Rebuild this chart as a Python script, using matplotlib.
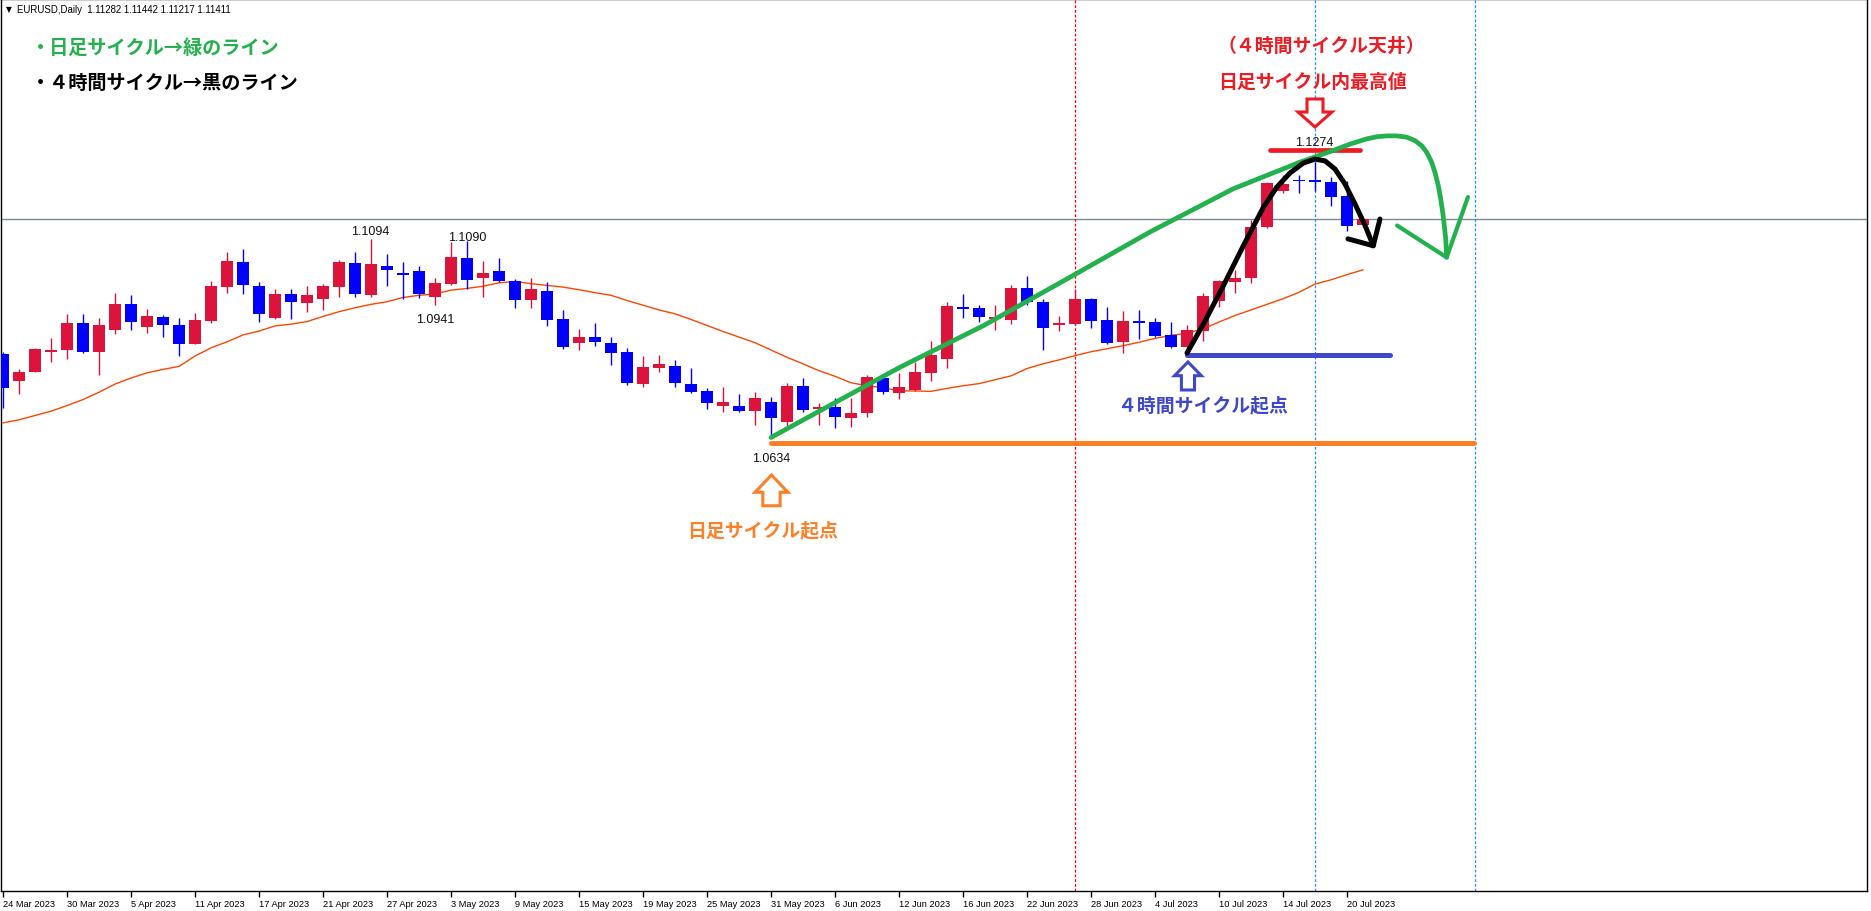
import matplotlib
matplotlib.use("Agg")
import matplotlib.pyplot as plt
from matplotlib.patches import Polygon
import numpy as np

plt.rcParams['font.family'] = ['Noto Sans CJK JP', 'DejaVu Sans']

# EURUSD daily, 24 Mar 2023 .. 21 Jul 2023 (one bar per weekday)
OPEN = [1.0828, 1.0766, 1.0787, 1.0833, 1.0836, 1.0900, 1.0833, 1.0884, 1.0944, 1.0891,
        1.0914, 1.0895, 1.0852, 1.0905, 1.0984, 1.1042, 1.0986, 1.0912, 1.0967, 1.0947,
        1.0956, 1.0984, 1.1040, 1.0965, 1.1032, 1.1016, 1.1020, 1.0961, 1.0990, 1.1051,
        1.1005, 1.1020, 1.0997, 1.0954, 1.0974, 1.0909, 1.0854, 1.0867, 1.0853, 1.0833,
        1.0759, 1.0796, 1.0800, 1.0758, 1.0742, 1.0708, 1.0707, 1.0696, 1.0717, 1.0671,
        1.0754, 1.0701, 1.0705, 1.0680, 1.0690, 1.0772, 1.0737, 1.0745, 1.0784, 1.0817,
        1.0937, 1.0935, 1.0910, 1.0907, 1.0981, 1.0948, 1.0896, 1.0898, 1.0956, 1.0907,
        1.0856, 1.0904, 1.0902, 1.0872, 1.0845, 1.0880, 1.0951, 1.0995, 1.1003, 1.1123,
        1.1206, 1.1232, 1.1232, 1.1227, 1.1194, 1.1128]
HIGH = [1.0832, 1.0793, 1.0842, 1.0865, 1.0921, 1.0921, 1.0911, 1.0969, 1.0965, 1.0932,
        1.0918, 1.0911, 1.0923, 1.0997, 1.1065, 1.1072, 1.0995, 1.0979, 1.0979, 1.0986,
        1.0990, 1.1046, 1.1065, 1.1094, 1.1060, 1.1042, 1.1032, 1.1004, 1.1088, 1.1090,
        1.1044, 1.1051, 1.1002, 1.1004, 1.0995, 1.0930, 1.0886, 1.0900, 1.0867, 1.0842,
        1.0823, 1.0826, 1.0814, 1.0795, 1.0749, 1.0751, 1.0735, 1.0740, 1.0728, 1.0761,
        1.0772, 1.0714, 1.0726, 1.0726, 1.0779, 1.0775, 1.0784, 1.0809, 1.0858, 1.0949,
        1.0967, 1.0942, 1.0942, 1.0988, 1.1009, 1.0956, 1.0916, 1.0979, 1.0958, 1.0937,
        1.0928, 1.0930, 1.0911, 1.0902, 1.0895, 1.0969, 1.0999, 1.1023, 1.1139, 1.1227,
        1.1243, 1.1243, 1.1274, 1.1239, 1.1229, 1.1144]
LOW = [1.0703, 1.0736, 1.0785, 1.0810, 1.0815, 1.0830, 1.0780, 1.0874, 1.0884, 1.0877,
       1.0868, 1.0824, 1.0850, 1.0900, 1.0970, 1.0966, 1.0903, 1.0910, 1.0910, 1.0926,
       1.0931, 1.0961, 1.0960, 1.0960, 1.0986, 1.0956, 1.0958, 1.0941, 1.0988, 1.0979,
       1.0961, 1.0996, 1.0935, 1.0935, 1.0893, 1.0840, 1.0838, 1.0847, 1.0803, 1.0755,
       1.0752, 1.0787, 1.0752, 1.0738, 1.0699, 1.0692, 1.0694, 1.0662, 1.0634, 1.0657,
       1.0694, 1.0664, 1.0657, 1.0659, 1.0682, 1.0734, 1.0724, 1.0743, 1.0766, 1.0796,
       1.0912, 1.0903, 1.0884, 1.0898, 1.0942, 1.0836, 1.0880, 1.0896, 1.0889, 1.0852,
       1.0829, 1.0863, 1.0868, 1.0842, 1.0828, 1.0859, 1.0938, 1.0970, 1.0993, 1.1121,
       1.1202, 1.1201, 1.1207, 1.1172, 1.1114, 1.1122]
CLOSE = [1.0750, 1.0786, 1.0840, 1.0837, 1.0900, 1.0833, 1.0895, 1.0944, 1.0901, 1.0916,
         1.0896, 1.0852, 1.0907, 1.0986, 1.1044, 1.0989, 1.0921, 1.0967, 1.0949, 1.0965,
         1.0986, 1.1042, 1.0966, 1.1037, 1.1023, 1.1012, 1.0968, 1.0993, 1.1053, 1.1000,
         1.1016, 1.0998, 1.0954, 1.0979, 1.0907, 1.0843, 1.0867, 1.0856, 1.0829, 1.0761,
         1.0798, 1.0805, 1.0761, 1.0740, 1.0715, 1.0717, 1.0696, 1.0726, 1.0680, 1.0754,
         1.0697, 1.0705, 1.0682, 1.0691, 1.0775, 1.0740, 1.0751, 1.0786, 1.0826, 1.0939,
         1.0933, 1.0914, 1.0911, 1.0981, 1.0949, 1.0888, 1.0900, 1.0956, 1.0905, 1.0854,
         1.0904, 1.0900, 1.0870, 1.0845, 1.0884, 1.0962, 1.0997, 1.1004, 1.1122, 1.1225,
         1.1222, 1.1229, 1.1226, 1.1193, 1.1125, 1.1141]
MA = [1.0668, 1.0675, 1.0685, 1.0695, 1.0708, 1.0722, 1.0739, 1.0758, 1.0772, 1.0784,
      1.0792, 1.0799, 1.0823, 1.0842, 1.0856, 1.0872, 1.0881, 1.0893, 1.0897, 1.0903,
      1.0915, 1.0926, 1.0935, 1.0943, 1.0949, 1.0959, 1.0964, 1.0967, 1.0976, 1.0980,
      1.0985, 1.0993, 1.0996, 1.0991, 1.0987, 1.0983, 1.0977, 1.0970, 1.0964, 1.0952,
      1.0941, 1.0930, 1.0921, 1.0908, 1.0894, 1.0880, 1.0867, 1.0854, 1.0837, 1.0820,
      1.0805, 1.0789, 1.0776, 1.0761, 1.0754, 1.0750, 1.0742, 1.0742, 1.0741, 1.0748,
      1.0754, 1.0759, 1.0768, 1.0777, 1.0794, 1.0805, 1.0814, 1.0824, 1.0833, 1.0840,
      1.0847, 1.0855, 1.0864, 1.0871, 1.0876, 1.0886, 1.0902, 1.0917, 1.0930, 1.0943,
      1.0956, 1.0971, 1.0990, 1.1000, 1.1012, 1.1023]

TICK_LABELS = ["24 Mar 2023", "30 Mar 2023", "5 Apr 2023", "11 Apr 2023", "17 Apr 2023",
               "21 Apr 2023", "27 Apr 2023", "3 May 2023", "9 May 2023", "15 May 2023",
               "19 May 2023", "25 May 2023", "31 May 2023", "6 Jun 2023", "12 Jun 2023",
               "16 Jun 2023", "22 Jun 2023", "28 Jun 2023", "4 Jul 2023", "10 Jul 2023",
               "14 Jul 2023", "20 Jul 2023"]
TICK_STEP = 4

LAST_PRICE = 1.11411
HEADER = "EURUSD,Daily  1.11282 1.11442 1.11217 1.11411"

# hand drawn annotation strokes (bar index, price)
GREEN_X = [48, 56.06, 61.25, 66.5, 71.69, 76.88, 81.06, 83.13, 84.19, 85.23, 85.86, 86.48,
           87.11, 87.73, 88.25, 88.67, 88.98, 89.29, 89.5, 89.71, 89.86, 89.98, 90.08, 90.17, 90.23]
GREEN_Y = [1.0634, 1.0797, 1.0893, 1.1002, 1.1111, 1.1211, 1.1273, 1.1300, 1.1315, 1.1327,
           1.1332, 1.1334, 1.1334, 1.1331, 1.1323, 1.1311, 1.1296, 1.1273, 1.1249, 1.1218,
           1.1187, 1.1157, 1.1126, 1.1095, 1.1052]
GREEN_HEAD_X = [87.13, 90.23, 91.56]
GREEN_HEAD_Y = [1.1126, 1.1052, 1.1192]
BLACK_X = [74.0, 75.02, 76.27, 77.52, 78.77, 79.61, 80.44, 81.27, 82.0, 82.63, 83.25,
           83.88, 84.5, 85.13, 85.64]
BLACK_Y = [1.0830, 1.0897, 1.0986, 1.1079, 1.1168, 1.1215, 1.1248, 1.1271, 1.1280, 1.1276,
           1.1257, 1.1222, 1.1176, 1.1126, 1.1079]
BLACK_HEAD_X = [84.06, 85.64, 86.06]
BLACK_HEAD_Y = [1.1095, 1.1079, 1.1141]

C_RED = "#ED1C24"
C_GREEN = "#22B14C"
C_ORANGE = "#FF7F27"
C_INDIGO = "#3F48CC"

fig = plt.figure(figsize=(18.71, 9.12), dpi=100)
ax = fig.add_axes([1 / 1871, 20 / 912, 1866 / 1871, 892 / 912])
ax.set_xlim(-0.125, 116.5)
ax.set_ylim(0.95814, 1.16517)

o = np.array(OPEN)
h = np.array(HIGH)
l = np.array(LOW)
c = np.array(CLOSE)
x = np.arange(len(o))
up = c >= o
cols = np.where(up, "#DC143C", "#0000FF")

# candles
ax.vlines(x, l, h, colors=cols, linewidth=1.0, zorder=3)
body_lo = np.minimum(o, c)
body_h = np.maximum(np.abs(c - o), 0.00025)
ax.bar(x, body_h, bottom=body_lo, width=0.69, color=cols, linewidth=0, zorder=4)

# moving average
ax.plot(x, MA, color="#FF4500", linewidth=1.0, zorder=2)

# separators and bid line
ax.axhline(LAST_PRICE, color="#778899", linewidth=1.0, zorder=1)
ax.axvline(67, color="#FF0000", linewidth=0.9, linestyle=(0, (2.2, 1.6)), zorder=1)
ax.axvline(82, color="#1E90FF", linewidth=0.9, linestyle=(0, (2.2, 1.6)), zorder=1)
ax.axvline(92, color="#1E90FF", linewidth=0.9, linestyle=(0, (2.2, 1.6)), zorder=1)

# price labels
lab_kw = dict(family="Liberation Sans", fontsize=9, color="#111111", ha="center", va="center", zorder=6)
ax.text(22.94, 1.1114, "1.1094", **lab_kw)
ax.text(29.0, 1.1099, "1.1090", **lab_kw)
ax.text(27.0, 1.0909, "1.0941", **lab_kw)
ax.text(48.0, 1.0586, "1.0634", **lab_kw)
ax.text(81.94, 1.1319, "1.1274", **lab_kw)

# horizontal marker lines
ax.plot([48, 91.94], [1.0622, 1.0622], color=C_ORANGE, linewidth=3.6, solid_capstyle="round", zorder=7)
ax.plot([74.0, 86.69], [1.0825, 1.0825], color=C_INDIGO, linewidth=3.6, solid_capstyle="round", zorder=7)
ax.plot([79.19, 84.81], [1.1302, 1.1302], color=C_RED, linewidth=3.4, solid_capstyle="round", zorder=7)

# cycle strokes
ax.plot(GREEN_X, GREEN_Y, color=C_GREEN, linewidth=3.4, solid_capstyle="round",
        solid_joinstyle="round", zorder=8)
ax.plot(GREEN_HEAD_X, GREEN_HEAD_Y, color=C_GREEN, linewidth=3.0, solid_capstyle="round",
        solid_joinstyle="round", zorder=8)
ax.plot(BLACK_X, BLACK_Y, color="black", linewidth=3.6, solid_capstyle="round",
        solid_joinstyle="round", zorder=9)
ax.plot(BLACK_HEAD_X, BLACK_HEAD_Y, color="black", linewidth=3.6, solid_capstyle="round",
        solid_joinstyle="round", zorder=9)


def hollow_arrow(cx, y_tail, y_base, y_tip, shaft, head, color):
    pts = [(cx - shaft, y_tail), (cx + shaft, y_tail), (cx + shaft, y_base),
           (cx + head, y_base), (cx, y_tip), (cx - head, y_base), (cx - shaft, y_base)]
    ax.add_patch(Polygon(pts, closed=True, facecolor="white", edgecolor=color,
                         linewidth=2.2, joinstyle="miter", zorder=10))


hollow_arrow(82.0, 1.14196, 1.13894, 1.13546, 0.5, 1.06, C_RED)
hollow_arrow(74.06, 1.07442, 1.07774, 1.08092, 0.41, 0.84, C_INDIGO)
hollow_arrow(48.03, 1.04756, 1.05067, 1.05469, 0.54, 1.03, C_ORANGE)

# Japanese notes
jp = dict(fontsize=13.6, fontweight="bold", ha="center", va="center", zorder=11)
ax.text(82.38, 1.1543, "（４時間サイクル天井）", color=C_RED, **jp)
ax.text(81.81, 1.1461, "日足サイクル内最高値", color=C_RED, **jp)
ax.text(47.5, 1.0419, "日足サイクル起点", color=C_ORANGE, **jp)
ax.text(75.0, 1.0709, "４時間サイクル起点", color=C_INDIGO, **jp)
fig.text(31 / 1871, 1 - 48 / 912, "・日足サイクル→緑のライン", color=C_GREEN, fontsize=13.8,
         fontweight="bold", ha="left", va="center")
fig.text(31 / 1871, 1 - 83 / 912, "・４時間サイクル→黒のライン", color="black", fontsize=13.8,
         fontweight="bold", ha="left", va="center")

# header
fig.text(6 / 1871, 1 - 10 / 912, "▼", family="DejaVu Sans", fontsize=5.5, color="black",
         ha="left", va="center")
fig.text(17 / 1871, 1 - 10 / 912, HEADER, family="Liberation Sans", fontsize=6.9,
         color="black", ha="left", va="center")

# date axis
ticks = np.arange(len(TICK_LABELS)) * TICK_STEP
ax.set_xticks(ticks)
ax.set_xticklabels(TICK_LABELS, family="Liberation Sans", fontsize=6.7, ha="left")
ax.tick_params(axis="x", direction="out", length=4, width=1, pad=1.5, color="black")
ax.set_yticks([])
for s in ax.spines.values():
    s.set_color("black")
    s.set_linewidth(1.0)

fig.savefig("out.png", dpi=100, facecolor="white")
